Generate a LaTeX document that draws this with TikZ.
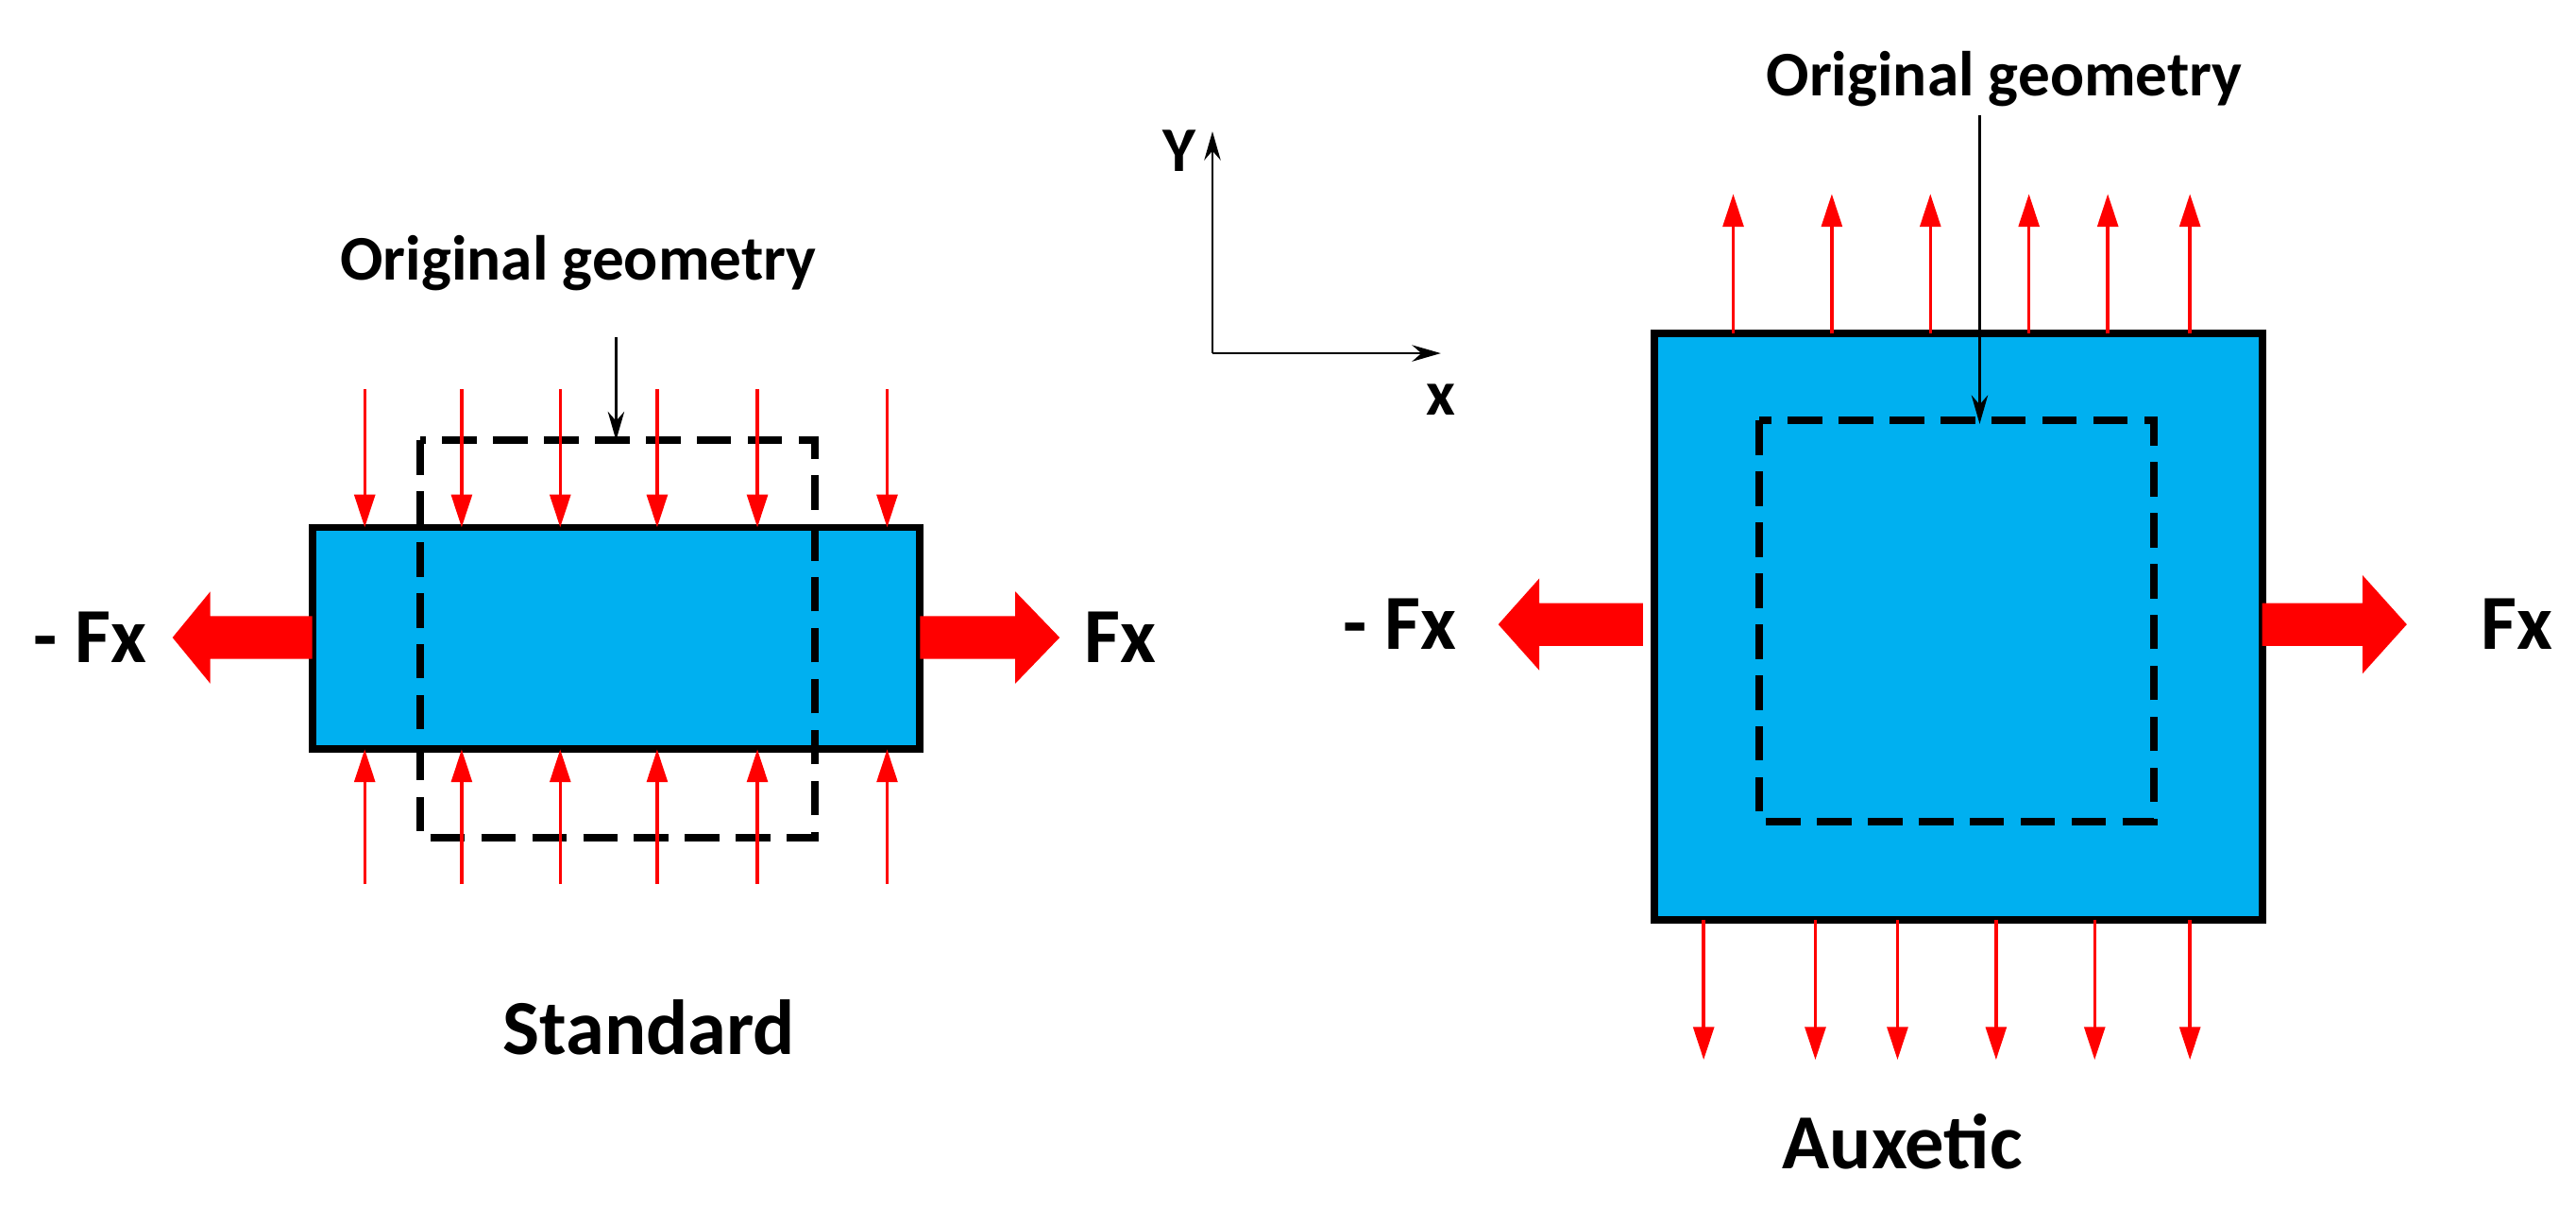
\documentclass[tikz,border=0pt]{standalone}
\usepackage{fontspec}
\setmainfont{Carlito}
\usetikzlibrary{arrows.meta}
\definecolor{boxblue}{HTML}{00B0F0}
\definecolor{fred}{HTML}{FF0000}
\begin{document}
\begin{tikzpicture}[x=0.02cm,y=-0.02cm,
  body/.style={draw=black,fill=boxblue,line width=0.09cm},
  orig/.style={draw=black,line width=0.09cm,dash pattern=on 0.42cm off 0.2cm},
  force/.style={draw=fred,line width=0.04cm,-{Triangle[length=0.4cm,width=0.25cm]}},
  big/.style={fill=fred,draw=none},
  lbl/.style={font=\bfseries\fontsize{22}{26}\selectfont},
  flbl/.style={font=\bfseries\fontsize{27}{30}\selectfont},
  ptr/.style={draw=black,line width=0.03cm,-{Stealth[length=0.35cm,width=0.2cm]}}]
\useasboundingbox (0,0) rectangle (1568,734);
% left
\node[body,minimum width=7.4cm,minimum height=2.7cm,inner sep=0] (lbox) at (375,388.5) {};
\draw[orig] (256,268) rectangle (496,510);
\foreach \x [count=\i] in {222,281,341,400,461,540}{
  \coordinate (lt\i) at (\x,237); \coordinate (lte\i) at (\x,321);
  \draw[force] (lt\i) -- (lte\i);
  \coordinate (lb\i) at (\x,538); \coordinate (lbe\i) at (\x,456);
  \draw[force] (lb\i) -- (lbe\i);}
\node[lbl] (og1) at (352,160) {Original geometry};
\coordinate (og1s) at (375,205); \coordinate (og1e) at (375,268);
\draw[ptr] (og1s) -- (og1e);
\path[big] (190,375) -- (128,375) -- (128,360) -- (105,388) -- (128,416) -- (128,401) -- (190,401) -- cycle;
\path[big] (560,375) -- (618,375) -- (618,360) -- (645,388) -- (618,416) -- (618,401) -- (560,401) -- cycle;
\node[flbl] (mfx1) at (55,388) {- Fx};
\node[flbl] (fx1) at (682,388) {Fx};
\node[flbl] (std) at (395,625) {Standard};
% axes
\coordinate (o) at (738,215);
\coordinate (ya) at (738,80); \coordinate (xa) at (877,215);
\draw[ptr] (o) -- (ya);
\draw[ptr] (o) -- (xa);
\node[lbl] (yl) at (718,92) {Y};
\node[lbl] (xl) at (877,243) {x};
% right
\node[body,minimum width=7.4cm,minimum height=7.14cm,inner sep=0] (rbox) at (1192,381.5) {};
\draw[orig] (1071,256) rectangle (1311,500);
\foreach \x [count=\i] in {1055,1115,1175,1235,1283,1333}{
  \coordinate (rt\i) at (\x,203); \coordinate (rte\i) at (\x,118);
  \draw[force] (rt\i) -- (rte\i);}
\foreach \x [count=\i] in {1037,1105,1155,1215,1275,1333}{
  \coordinate (rb\i) at (\x,560); \coordinate (rbe\i) at (\x,645);
  \draw[force] (rb\i) -- (rbe\i);}
\node[lbl] (og2) at (1220,48) {Original geometry};
\coordinate (og2s) at (1205,70); \coordinate (og2e) at (1205,258);
\draw[ptr] (og2s) -- (og2e);
\path[big] (1000,367) -- (937,367) -- (937,352) -- (912,380) -- (937,408) -- (937,393) -- (1000,393) -- cycle;
\path[big] (1377,367) -- (1438,367) -- (1438,350) -- (1465,380) -- (1438,410) -- (1438,393) -- (1377,393) -- cycle;
\node[flbl] (mfx2) at (852,380) {- Fx};
\node[flbl] (fx2) at (1532,380) {Fx};
\node[flbl] (aux) at (1158,695) {Auxetic};
\end{tikzpicture}
\end{document}
